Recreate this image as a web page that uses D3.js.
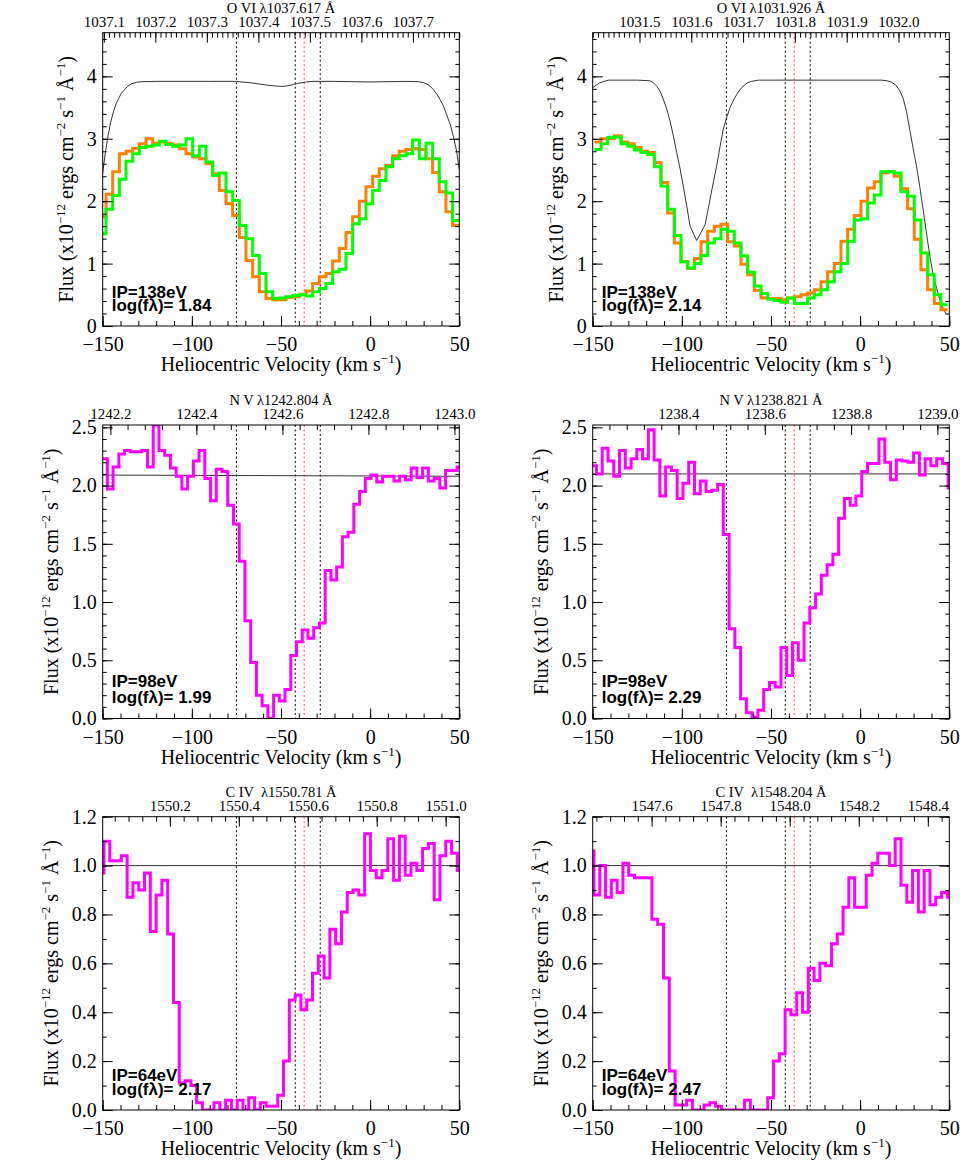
<!DOCTYPE html>
<html><head><meta charset="utf-8">
<script src="https://cdn.jsdelivr.net/npm/d3@7"></script>
<style>
body{margin:0;background:#fff;}
svg{display:block;}
</style></head><body>
<svg id="chart" width="980" height="1176"></svg>
<script>
// ---------- shared data ----------
const SPEED_OF_LIGHT = 299792.458;
const velocityDomain = [-150, 50];
const velocityMajorTicks = [-150, -100, -50, 0, 50];
const velocityMinorStep = 10;
const componentVelocities = [-75, -42, -28];
const redComponentVelocities = [-37];

// ---------- O VI 1037.617 ----------
const ovi1037Title = "O VI λ1037.617 Å";
const ovi1037Rest = 1037.617;
const ovi1037IP = "IP=138eV";
const ovi1037LogF = "log(fλ)= 1.84";
const ovi1037BinStart = -151.87, ovi1037BinWidth = 3.738;
const ovi1037Orange = [1.75,2.11,2.47,2.76,2.80,2.85,2.92,3.00,2.93,2.95,
  2.92,2.90,2.84,2.76,2.71,2.68,2.60,2.44,2.17,1.96,
  1.77,1.42,1.05,0.79,0.55,0.44,0.42,0.42,0.46,0.47,
  0.51,0.56,0.68,0.79,0.84,1.04,1.24,1.50,1.75,2.00,
  2.23,2.40,2.52,2.57,2.73,2.80,2.83,2.84,2.83,2.68,
  2.46,2.15,1.83,1.61];
const ovi1037Green = [1.48,1.87,2.09,2.35,2.64,2.76,2.86,2.88,2.90,2.96,
  2.91,2.88,2.90,3.00,2.73,2.88,2.63,2.41,2.45,2.15,
  2.01,1.61,1.40,1.13,0.84,0.55,0.44,0.45,0.47,0.49,
  0.50,0.48,0.55,0.60,0.68,0.87,0.91,1.16,1.64,1.72,
  1.96,2.17,2.33,2.55,2.68,2.73,2.76,2.98,2.68,2.93,
  2.68,2.31,2.13,1.69];
const ovi1037ModelVel = [-150,-148.5,-147,-145.5,-144,-142.5,-141,-139.5,-138,-136,-134,-131,-128,-120,-90,-75,-65,-58,-53,-49,-46,-43,-40,-36,-32,-20,0,20,27,30,33,35.4,37.5,39.2,41,43,45,46.7,48.5,50];
const ovi1037ModelFlux = [2.45,2.78,3.05,3.27,3.43,3.56,3.65,3.73,3.78,3.84,3.88,3.905,3.915,3.92,3.92,3.92,3.89,3.86,3.845,3.84,3.85,3.87,3.89,3.91,3.92,3.92,3.91,3.92,3.915,3.90,3.86,3.79,3.71,3.63,3.53,3.38,3.22,3.04,2.80,2.50];

// ---------- O VI 1031.926 ----------
const ovi1031Title = "O VI λ1031.926 Å";
const ovi1031Rest = 1031.926;
const ovi1031IP = "IP=138eV";
const ovi1031LogF = "log(fλ)= 2.14";
const ovi1031BinStart = -149.07, ovi1031BinWidth = 3.738;
const ovi1031Orange = [2.95,3.00,3.00,3.05,2.95,2.92,2.86,2.80,2.78,2.62,
  2.30,1.81,1.33,1.03,0.92,1.08,1.35,1.52,1.60,1.63,
  1.35,1.28,0.99,0.82,0.57,0.45,0.44,0.44,0.42,0.45,
  0.47,0.50,0.53,0.58,0.71,0.87,1.00,1.36,1.55,1.77,
  2.00,2.21,2.31,2.45,2.47,2.40,2.20,1.88,1.39,0.90,
  0.58,0.36,0.26];
const ovi1031Green = [2.83,2.92,3.02,3.03,2.92,2.88,2.82,2.78,2.75,2.55,
  2.24,1.87,1.45,1.03,0.93,1.00,1.13,1.33,1.40,1.55,
  1.52,1.33,1.12,0.86,0.64,0.52,0.43,0.41,0.38,0.45,
  0.36,0.36,0.45,0.50,0.58,0.71,0.87,1.00,1.36,1.70,
  1.72,1.97,2.10,2.47,2.47,2.45,2.15,2.08,1.70,1.17,
  0.82,0.50,0.34];
const ovi1031ModelVel = [-150,-146,-141,-125,-118,-116,-114,-112,-110.5,-108.5,-106.6,-104.7,-102.9,-101,-99.2,-97.3,-95.4,-91.7,-87,-85.6,-84.2,-82.3,-80.5,-78.6,-76.8,-75,-73,-71,-69,-67,-65,-63,-61,-57,12,15,17.5,20,22,24,26,28,30,31.7,33.5,35.4,37.3,39.2,41,42.9,44.7,46.6,48];
const ovi1031ModelFlux = [3.82,3.90,3.94,3.94,3.93,3.90,3.84,3.75,3.64,3.48,3.28,3.04,2.78,2.52,2.24,1.93,1.60,1.37,1.62,1.82,2.03,2.31,2.56,2.87,3.15,3.33,3.50,3.62,3.72,3.80,3.86,3.90,3.92,3.94,3.94,3.93,3.91,3.86,3.78,3.66,3.44,3.12,2.80,2.55,2.22,1.85,1.47,1.10,0.82,0.60,0.42,0.28,0.20];

// ---------- N V 1242.804 ----------
const nv1242Title = "N V λ1242.804 Å";
const nv1242Rest = 1242.804;
const nv1242IP = "IP=98eV";
const nv1242LogF = "log(fλ)= 1.99";
const nv1242BinStart = -150.60, nv1242BinWidth = 3.215;
const nv1242Flux = [2.23,1.97,2.16,2.27,2.30,2.29,2.29,2.30,2.16,2.52,
  2.30,2.26,2.15,2.08,1.97,2.08,2.21,2.30,2.06,1.87,
  2.14,2.12,1.83,1.67,1.35,0.84,0.48,0.20,0.11,0.00,
  0.20,0.15,0.25,0.54,0.66,0.76,0.69,0.78,0.82,1.27,
  1.19,1.30,1.56,1.60,1.84,1.95,2.06,2.09,2.03,2.08,
  2.08,2.04,2.08,2.05,2.15,2.07,2.15,2.04,2.06,1.98,
  2.13,2.13,2.16];
const nv1242ContVel = [-150, 50];
const nv1242ContFlux = [2.09, 2.08];

// ---------- N V 1238.821 ----------
const nv1238Title = "N V λ1238.821 Å";
const nv1238Rest = 1238.821;
const nv1238IP = "IP=98eV";
const nv1238LogF = "log(fλ)= 2.29";
const nv1238BinStart = -151.12, nv1238BinWidth = 3.234;
const nv1238Flux = [2.17,2.10,2.32,2.21,2.08,2.30,2.15,2.23,2.31,2.23,
  2.48,2.22,1.91,2.16,2.13,1.89,2.02,2.20,1.93,2.04,
  1.95,1.96,2.01,1.58,0.77,0.61,0.17,0.05,0.01,0.07,
  0.25,0.31,0.27,0.61,0.37,0.65,0.50,0.82,0.95,1.07,
  1.23,1.32,1.41,1.72,1.89,1.83,1.91,2.12,2.19,2.19,
  2.40,2.20,2.05,2.22,2.21,2.20,2.28,2.09,2.23,2.17,
  2.23,2.19,1.98];
const nv1238ContVel = [-150, 50];
const nv1238ContFlux = [2.10, 2.10];

// ---------- C IV 1550.781 ----------
const civ1550Title = "C IV  λ1550.781 Å";
const civ1550Rest = 1550.781;
const civ1550IP = "IP=64eV";
const civ1550LogF = "log(fλ)= 2.17";
const civ1550BinStart = -152.54, civ1550BinWidth = 3.249;
const civ1550Flux = [0.97,1.10,1.02,1.02,1.04,0.87,0.93,0.90,0.97,0.73,
  0.88,0.94,0.72,0.44,0.11,0.12,0.10,0.03,0.00,0.00,
  0.03,0.00,0.04,0.00,0.04,0.00,0.05,0.00,0.03,0.015,
  0.015,0.06,0.20,0.45,0.47,0.41,0.45,0.56,0.63,0.54,
  0.74,0.68,0.81,0.89,0.90,0.88,1.13,0.98,0.95,0.98,
  1.11,0.94,1.12,0.96,1.01,0.98,1.07,1.09,0.86,1.04,
  1.10,1.05,0.98];
const civ1550ContVel = [-150, 50];
const civ1550ContFlux = [1.0, 1.0];

// ---------- C IV 1548.204 ----------
const civ1548Title = "C IV  λ1548.204 Å";
const civ1548Rest = 1548.204;
const civ1548IP = "IP=64eV";
const civ1548LogF = "log(fλ)= 2.47";
const civ1548BinStart = -152.54, civ1548BinWidth = 3.249;
const civ1548Flux = [1.06,0.88,1.00,0.87,0.94,0.89,1.01,0.96,0.95,0.95,
  0.95,0.78,0.76,0.54,0.16,0.02,0.02,0.04,0.00,0.00,
  0.02,0.03,0.015,0.00,0.00,0.00,0.00,0.04,0.00,0.00,
  0.00,0.05,0.20,0.23,0.41,0.39,0.48,0.40,0.58,0.53,
  0.60,0.59,0.68,0.72,0.83,0.95,0.83,0.83,0.96,1.01,
  1.05,1.05,1.00,1.11,0.92,0.85,0.98,0.81,0.98,0.84,
  0.87,0.89,0.87];
const civ1548ContVel = [-150, 50];
const civ1548ContFlux = [1.0, 1.0];

// ---------- layout ----------
const cols = [[102.7, 459.3], [592.7, 949.3]];
const rows = [
  {y0: 32.7, y1: 326, yDomain: [0, 4.7], yMajor: 1, yMinor: 0.2, yFmt: "d", wlMajor: 0.1, wlMinor: 0.01, yTitleOff: 30, ann: [297.7, 310.7]},
  {y0: 425, y1: 718.5, yDomain: [0, 2.52], yMajor: 0.5, yMinor: 0.1, yFmt: ".1f", wlMajor: 0.2, wlMinor: 0.04, yTitleOff: 44.4, ann: [686.7, 703.3]},
  {y0: 816.7, y1: 1110, yDomain: [0, 1.2], yMajor: 0.2, yMinor: 0.1, yFmt: ".1f", wlMajor: 0.2, wlMinor: 0.04, yTitleOff: 44.4, ann: [1081, 1095]}
];

const binSeries = (start, width, vals) => vals.map((f, i) => [start + i * width, f]).concat([[start + vals.length * width, vals[vals.length - 1]]]);
const zip = (a, b) => a.map((v, i) => [v, b[i]]);

const panels = [
  {row: 0, col: 0, title: ovi1037Title, rest: ovi1037Rest, ip: ovi1037IP, logf: ovi1037LogF,
   smooth: zip(ovi1037ModelVel, ovi1037ModelFlux),
   hists: [{pts: binSeries(ovi1037BinStart, ovi1037BinWidth, ovi1037Orange), color: "#ff8000"},
           {pts: binSeries(ovi1037BinStart, ovi1037BinWidth, ovi1037Green), color: "#00ff00"}]},
  {row: 0, col: 1, title: ovi1031Title, rest: ovi1031Rest, ip: ovi1031IP, logf: ovi1031LogF,
   smooth: zip(ovi1031ModelVel, ovi1031ModelFlux),
   hists: [{pts: binSeries(ovi1031BinStart, ovi1031BinWidth, ovi1031Orange), color: "#ff8000"},
           {pts: binSeries(ovi1031BinStart, ovi1031BinWidth, ovi1031Green), color: "#00ff00"}]},
  {row: 1, col: 0, title: nv1242Title, rest: nv1242Rest, ip: nv1242IP, logf: nv1242LogF,
   smooth: zip(nv1242ContVel, nv1242ContFlux),
   hists: [{pts: binSeries(nv1242BinStart, nv1242BinWidth, nv1242Flux), color: "#ff00ff"}]},
  {row: 1, col: 1, title: nv1238Title, rest: nv1238Rest, ip: nv1238IP, logf: nv1238LogF,
   smooth: zip(nv1238ContVel, nv1238ContFlux),
   hists: [{pts: binSeries(nv1238BinStart, nv1238BinWidth, nv1238Flux), color: "#ff00ff"}]},
  {row: 2, col: 0, title: civ1550Title, rest: civ1550Rest, ip: civ1550IP, logf: civ1550LogF,
   smooth: zip(civ1550ContVel, civ1550ContFlux),
   hists: [{pts: binSeries(civ1550BinStart, civ1550BinWidth, civ1550Flux), color: "#ff00ff"}]},
  {row: 2, col: 1, title: civ1548Title, rest: civ1548Rest, ip: civ1548IP, logf: civ1548LogF,
   smooth: zip(civ1548ContVel, civ1548ContFlux),
   hists: [{pts: binSeries(civ1548BinStart, civ1548BinWidth, civ1548Flux), color: "#ff00ff"}]}
];

const SERIF = "'Liberation Serif','Times New Roman',Times,serif";
const SANS = "'Liberation Sans',Arial,Helvetica,sans-serif";
const svg = d3.select("#chart");

function stepValues(lo, hi, step) {
  const out = [];
  const k0 = Math.ceil(lo / step - 1e-9), k1 = Math.floor(hi / step + 1e-9);
  for (let k = k0; k <= k1; k++) out.push(+(k * step).toFixed(6));
  return out;
}

function styleAxis(sel, size) {
  sel.select(".domain").remove();
  sel.attr("font-family", null).attr("font-size", null);
  sel.selectAll(".tick line").attr("stroke", "#000").attr("stroke-width", 1);
  sel.selectAll(".tick text").attr("font-family", SERIF).attr("font-size", size).attr("fill", "#000");
}

panels.forEach((p, idx) => {
  const r = rows[p.row];
  const [x0, x1] = cols[p.col];
  const {y0, y1} = r;
  const g = svg.append("g");
  const x = d3.scaleLinear().domain(velocityDomain).range([x0, x1]);
  const y = d3.scaleLinear().domain(r.yDomain).range([y1, y0]);
  const lam = v => p.rest * (1 + v / SPEED_OF_LIGHT);
  const xl = d3.scaleLinear().domain(velocityDomain.map(lam)).range([x0, x1]);

  const clipId = "clip" + idx;
  svg.append("clipPath").attr("id", clipId).append("rect")
    .attr("x", x0).attr("y", y0).attr("width", x1 - x0).attr("height", y1 - y0);
  const inner = g.append("g").attr("clip-path", `url(#${clipId})`);

  // component markers
  componentVelocities.forEach(v => {
    inner.append("line").attr("x1", x(v)).attr("x2", x(v)).attr("y1", y0).attr("y2", y1)
      .attr("stroke", "#000").attr("stroke-width", 1).attr("stroke-dasharray", "2,2.5");
  });
  redComponentVelocities.forEach(v => {
    inner.append("line").attr("x1", x(v)).attr("x2", x(v)).attr("y1", y0).attr("y2", y1)
      .attr("stroke", "#ff4a4a").attr("stroke-width", 1).attr("stroke-dasharray", "2,2.5");
  });

  // continuum / model
  inner.append("path").datum(p.smooth)
    .attr("d", d3.line().x(d => x(d[0])).y(d => y(d[1])))
    .attr("fill", "none").attr("stroke", "#333").attr("stroke-width", 1);

  // histograms
  const stepLine = d3.line().curve(d3.curveStepAfter).x(d => x(d[0])).y(d => y(d[1]));
  p.hists.forEach(h => {
    inner.append("path").datum(h.pts).attr("d", stepLine)
      .attr("fill", "none").attr("stroke", h.color).attr("stroke-width", 3)
      .attr("stroke-linejoin", "miter");
  });

  // frame
  g.append("rect").attr("x", x0).attr("y", y0).attr("width", x1 - x0).attr("height", y1 - y0)
    .attr("fill", "none").attr("stroke", "#000").attr("stroke-width", 1);

  // bottom velocity axis
  const vMinor = stepValues(velocityDomain[0], velocityDomain[1], velocityMinorStep);
  g.append("g").attr("transform", `translate(0,${y1})`)
    .call(d3.axisBottom(x).tickValues(vMinor).tickSize(-5).tickFormat(""))
    .call(s => styleAxis(s, 20));
  g.append("g").attr("transform", `translate(0,${y1})`)
    .call(d3.axisBottom(x).tickValues(velocityMajorTicks).tickSize(-10).tickPadding(11).tickFormat(d3.format("d")))
    .call(s => styleAxis(s, 20));

  // top wavelength axis
  const [lmin, lmax] = velocityDomain.map(lam);
  g.append("g").attr("transform", `translate(0,${y0})`)
    .call(d3.axisTop(xl).tickValues(stepValues(lmin, lmax, r.wlMinor)).tickSize(-5).tickFormat(""))
    .call(s => styleAxis(s, 15));
  g.append("g").attr("transform", `translate(0,${y0})`)
    .call(d3.axisTop(xl).tickValues(stepValues(lmin, lmax, r.wlMajor)).tickSize(-10).tickPadding(6).tickFormat(d3.format(".1f")))
    .call(s => styleAxis(s, 15));

  // y axes
  const yMaj = stepValues(r.yDomain[0], r.yDomain[1], r.yMajor);
  const yMin = stepValues(r.yDomain[0], r.yDomain[1], r.yMinor);
  g.append("g").attr("transform", `translate(${x0},0)`)
    .call(d3.axisLeft(y).tickValues(yMin).tickSize(-4).tickFormat(""))
    .call(s => styleAxis(s, 20));
  g.append("g").attr("transform", `translate(${x0},0)`)
    .call(d3.axisLeft(y).tickValues(yMaj).tickSize(-10).tickPadding(6).tickFormat(d3.format(r.yFmt)))
    .call(s => styleAxis(s, 20));
  g.append("g").attr("transform", `translate(${x1},0)`)
    .call(d3.axisRight(y).tickValues(yMin).tickSize(-4).tickFormat(""))
    .call(s => styleAxis(s, 20));
  g.append("g").attr("transform", `translate(${x1},0)`)
    .call(d3.axisRight(y).tickValues(yMaj).tickSize(-10).tickFormat(""))
    .call(s => styleAxis(s, 20));

  // title
  g.append("text").attr("x", (x0 + x1) / 2).attr("y", y0 - 19.7)
    .attr("text-anchor", "middle").attr("font-family", SERIF).attr("font-size", 14.5)
    .style("white-space", "pre").attr("xml:space", "preserve").text(p.title);

  // x title
  const xt = g.append("text").attr("x", (x0 + x1) / 2).attr("y", y1 + 45)
    .attr("text-anchor", "middle").attr("font-family", SERIF).attr("font-size", 20);
  xt.append("tspan").text("Heliocentric Velocity (km s");
  xt.append("tspan").attr("font-size", 13).attr("dy", -8).text("−1");
  xt.append("tspan").attr("dy", 8).text(")");

  // y title
  const yt = g.append("text")
    .attr("transform", `translate(${x0 - r.yTitleOff},${(y0 + y1) / 2}) rotate(-90)`)
    .attr("text-anchor", "middle").attr("font-family", SERIF).attr("font-size", 20);
  const parts = [["Flux (x10", false], ["−12", true], [" ergs cm", false], ["−2", true], [" s", false], ["−1", true], [" Å", false], ["−1", true], [")", false]];
  let raised = false;
  parts.forEach(([t, sup]) => {
    const ts = yt.append("tspan").text(t);
    if (sup && !raised) { ts.attr("font-size", 13).attr("dy", -8); raised = true; }
    else if (!sup && raised) { ts.attr("dy", 8); raised = false; }
    else if (sup) ts.attr("font-size", 13);
  });

  // annotations
  g.append("text").attr("x", x0 + 9).attr("y", r.ann[0]).attr("font-family", SANS)
    .attr("font-weight", "bold").attr("font-size", 17).text(p.ip);
  g.append("text").attr("x", x0 + 9).attr("y", r.ann[1]).attr("font-family", SANS)
    .attr("font-weight", "bold").attr("font-size", 17).text(p.logf);
});
</script></body></html>
